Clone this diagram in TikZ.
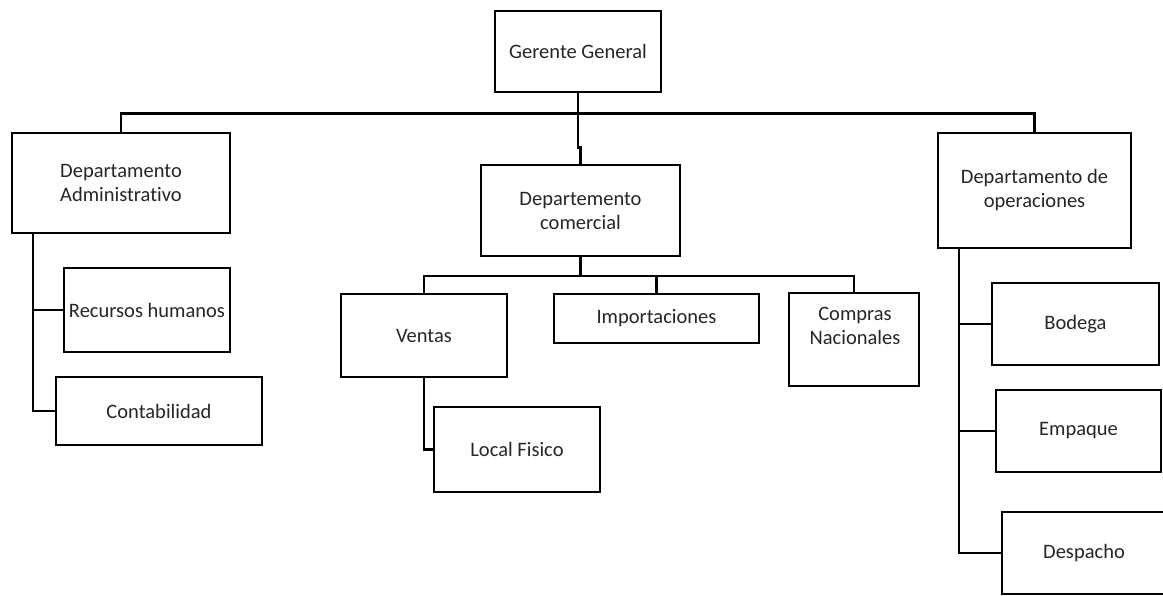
\documentclass[tikz,border=0pt]{standalone}
\usepackage{fontspec}
\setmainfont{Carlito}[Ligatures=NoCommon]
\definecolor{txt}{HTML}{262626}
\begin{document}
\begin{tikzpicture}[x=1pt,y=-1pt,
  box/.style={draw=black, line width=2.8pt, align=center, inner sep=0pt,
    font=\fontsize{20.5}{24}\selectfont, text=txt},
  lbl/.style={align=center, inner sep=0pt, font=\fontsize{20.5}{24}\selectfont, text=txt},
  conn/.style={draw=black, line width=2.8pt}]
\clip (0,0) rectangle (1163,595);
\fill[white] (0,0) rectangle (1163,595);
% boxes
\node[box, minimum width=166pt, minimum height=81pt] (gg) at (578,51.5) {Gerente General};
\node[box, minimum width=218pt, minimum height=100pt] (adm) at (121,183) {Departamento\\Administrativo};
\node[box, minimum width=199pt, minimum height=91pt] (com) at (580.5,210.5) {Departemento\\comercial};
\node[box, minimum width=193pt, minimum height=115pt] (ops) at (1034.5,190.5) {Departamento de\\operaciones};
\node[box, minimum width=166pt, minimum height=84pt] (rh) at (147,310) {Recursos humanos};
\node[box, minimum width=206pt, minimum height=68pt] (cont) at (159,411) {Contabilidad};
\node[box, minimum width=166pt, minimum height=83pt] (ven) at (424,335.5) {Ventas};
\node[box, minimum width=205pt, minimum height=49pt] (imp) at (656.5,318.5) {Importaciones};
\node[box, minimum width=130pt, minimum height=93pt] (cn) at (854,339.5) {};
\node[lbl] (cnt) at (855,325.5) {Compras\\Nacionales};
\node[box, minimum width=166pt, minimum height=85pt] (lf) at (517,449.5) {Local Fisico};
\node[box, minimum width=167pt, minimum height=82pt] (bod) at (1075.5,324) {Bodega};
\node[box, minimum width=165pt, minimum height=82pt] (emp) at (1078.5,431) {Empaque};
\node[box, minimum width=164pt, minimum height=82pt] (des) at (1084,553) {Despacho};
% helper coordinates
\coordinate (ta) at (33,0);
\coordinate (cbus) at (0,276);
\coordinate (to) at (959,0);
% top level
\draw[conn] (gg.south) -- ++(0,54) -- ++(2.5,0) -- (com.north);
\draw[conn] (adm.north) -- ++(0,-18) -| (ops.north);
% administrativo
\draw[conn] (adm.south -| ta) |- (cont.west);
\draw[conn] (ta |- rh.west) -- (rh.west);
% comercial
\draw[conn] (com.south) -- (com.south |- cbus);
\draw[conn] (ven.north) -- (ven.north |- cbus) -- (cn.north |- cbus) -- (cn.north);
\draw[conn] (imp.north) -- (imp.north |- cbus);
\draw[conn] (ven.south) |- (lf.west);
% operaciones
\draw[conn] (ops.south -| to) |- (des.west);
\draw[conn] (to |- bod.west) -- (bod.west);
\draw[conn] (to |- emp.west) -- (emp.west);
\end{tikzpicture}
\end{document}
